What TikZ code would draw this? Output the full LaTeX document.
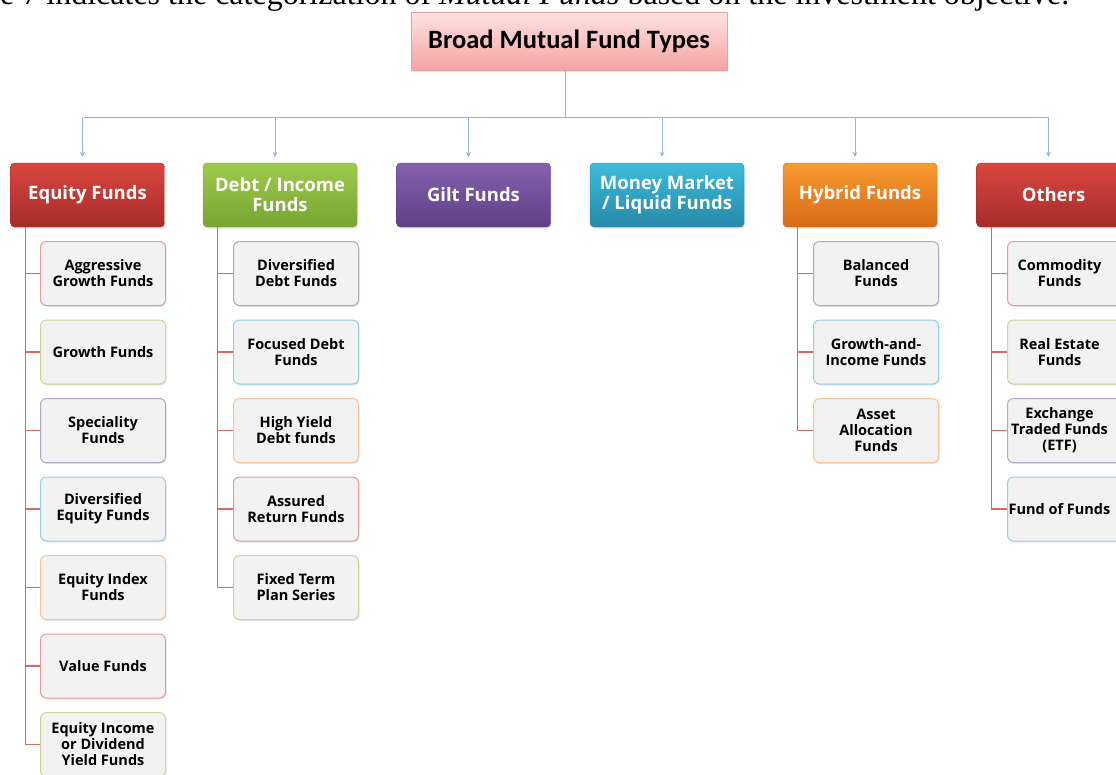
\documentclass[tikz,border=0pt]{standalone}
\usepackage{fontspec}
\setmainfont{Open Sans}
\newfontfamily\titlefont{Carlito}
\newfontfamily\capfont{Liberation Serif}
\usetikzlibrary{positioning,arrows.meta,calc,shadows}

% colours of the chart
\definecolor{tttop}{HTML}{FFE3E3}
\definecolor{ttbot}{HTML}{F5A3A3}
\definecolor{ttedge}{HTML}{E8A0A0}
\definecolor{eqtop}{HTML}{D9463F}
\definecolor{eqbot}{HTML}{A52C29}
\definecolor{dbtop}{HTML}{9DCB4C}
\definecolor{dbbot}{HTML}{79A432}
\definecolor{gltop}{HTML}{8462AE}
\definecolor{glbot}{HTML}{5F3F86}
\definecolor{mmtop}{HTML}{3CBCDB}
\definecolor{mmbot}{HTML}{2789A8}
\definecolor{hytop}{HTML}{FA9B30}
\definecolor{hybot}{HTML}{D46B17}
\definecolor{edred}{HTML}{E39C9A}
\definecolor{edgreen}{HTML}{C5D99E}
\definecolor{edpurple}{HTML}{B6A5CB}
\definecolor{edcyan}{HTML}{96CFE0}
\definecolor{edorange}{HTML}{F9C395}
\definecolor{boxfill}{HTML}{F2F2F2}
\definecolor{treered}{HTML}{D76A68}
\definecolor{feedblue}{HTML}{97B4DA}

% text of the cut-off column on the right
\newcommand{\cutoff}[1]{\parbox{104pt}{\centering #1}\hspace*{21pt}}

\begin{document}
\begin{tikzpicture}[x=1pt,y=-1pt,
  >={Stealth[length=5pt,width=5pt]},
  soft/.style={drop shadow={opacity=0.2,shadow xshift=1pt,shadow yshift=-1.5pt}},
  topbox/.style={draw=ttedge,top color=tttop,bottom color=ttbot,minimum width=316pt,
                 minimum height=58pt,soft,font=\titlefont\bfseries\fontsize{26.5}{30}\selectfont},
  catbox/.style={rounded corners=4pt,draw=#1bot,top color=#1top,bottom color=#1bot,
                 minimum width=154pt,minimum height=64pt,text=white,align=center,soft,
                 font=\bfseries\fontsize{18.5}{20}\selectfont,inner sep=1pt},
  fundbox/.style={rounded corners=6pt,draw=#1,line width=1pt,fill=boxfill,soft,
                  minimum width=125pt,minimum height=64pt,align=center,
                  font=\bfseries\fontsize{14.5}{16}\selectfont,inner sep=1pt},
  tree/.style={draw=treered,line width=1.3pt},
  feed/.style={draw=feedblue,line width=0.8pt}
]
  \useasboundingbox (0,0) rectangle (1116,774);
  \clip (0,0) rectangle (1116,774);

  % caption line cut off by the top edge
  \node[anchor=base west,inner sep=0,font=\capfont\fontsize{32}{36}\selectfont] (caption) at (0,4.5)
       {e 7 indicates the categorization of \textit{Mutual Funds} based on the investment objective.};

  % root and fund types
  \node[topbox] (top) at (569,41) {Broad Mutual Fund Types};
  \node[catbox=eq] (eq)     at (87.5,195)  {Equity Funds};
  \node[catbox=db] (debt)   at (280,195)   {Debt / Income\\ Funds};
  \node[catbox=gl] (gilt)   at (473.5,195) {Gilt Funds};
  \node[catbox=mm] (money)  at (667,195)   {Money Market\\ / Liquid Funds};
  \node[catbox=hy] (hybrid) at (860,195)   {Hybrid Funds};
  \node[catbox=eq] (others) at (1053.5,195) {Others};

  % blue feed lines
  \coordinate (bar) at (565,118);
  \draw[feed] (top.south -| bar) -- (bar);
  \draw[feed] ($(eq.north)+(-5,-45)$) -- ($(others.north)+(-5,-45)$);
  \foreach \n in {eq,debt,gilt,money,hybrid,others}
    \draw[feed,->] ($(\n.north)+(-5,-45)$) -- ($(\n.north)+(-5,-6)$);

  % equity funds
  \foreach \t/\c [count=\i] in {{Aggressive\\ Growth Funds}/edred, {Growth Funds}/edgreen,
      {Speciality\\ Funds}/edpurple, {Diversified\\ Equity Funds}/edcyan,
      {Equity Index\\ Funds}/edorange, {Value Funds}/edred,
      {Equity Income\\ or Dividend\\ Yield Funds}/edgreen}
    \node[fundbox=\c] (e\i) at (103,273.5+78.5*\i-78.5) {\t};

  % debt funds
  \foreach \t/\c [count=\i] in {{Diversified\\ Debt Funds}/edpurple, {Focused Debt\\ Funds}/edcyan,
      {High Yield\\ Debt funds}/edorange, {Assured\\ Return Funds}/edred,
      {Fixed Term\\ Plan Series}/edgreen}
    \node[fundbox=\c] (d\i) at (296,273.5+78.5*\i-78.5) {\t};

  % hybrid funds
  \foreach \t/\c [count=\i] in {{Balanced\\ Funds}/edpurple, {Growth-and-\\ Income Funds}/edcyan,
      {Asset\\ Allocation\\ Funds}/edorange}
    \node[fundbox=\c] (h\i) at (876,273.5+78.5*\i-78.5) {\t};

  % others
  \foreach \t/\c [count=\i] in {{Commodity\\ Funds}/edred, {Real Estate\\ Funds}/edgreen,
      {Exchange\\ Traded Funds\\ (ETF)}/edpurple, {Fund of Funds}/edcyan}
    \node[fundbox=\c,anchor=west,inner xsep=0pt] (o\i) at (1007,273.5+78.5*\i-78.5) {\cutoff{\t}};

  % red tree lines
  \coordinate (es) at ($(eq.south west)+(15,0)$);
  \coordinate (ds) at ($(debt.south west)+(15,0)$);
  \coordinate (hs) at ($(hybrid.south west)+(15,0)$);
  \coordinate (os) at ($(others.south west)+(15,0)$);
  \draw[tree] (es) |- (e7.west);
  \foreach \i in {1,...,6} \draw[tree] (es |- e\i.west) -- (e\i.west);
  \draw[tree] (ds) |- (d5.west);
  \foreach \i in {1,...,4} \draw[tree] (ds |- d\i.west) -- (d\i.west);
  \draw[tree] (hs) |- (h3.west);
  \foreach \i in {1,2} \draw[tree] (hs |- h\i.west) -- (h\i.west);
  \draw[tree] (os) |- (o4.west);
  \foreach \i in {1,...,3} \draw[tree] (os |- o\i.west) -- (o\i.west);
\end{tikzpicture}
\end{document}
